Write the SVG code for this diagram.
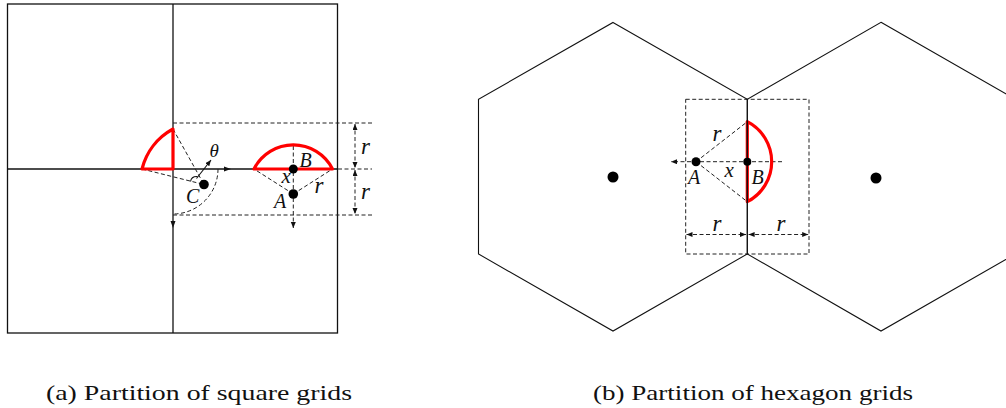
<svg xmlns="http://www.w3.org/2000/svg" width="1006" height="408" viewBox="0 0 1006 408">
<style>
.solid{fill:none;stroke:#111;stroke-width:1.3}
.thin{fill:none;stroke:#111;stroke-width:1.1}
.dash{fill:none;stroke:#222;stroke-width:1;stroke-dasharray:4 2.5}
.red{fill:none;stroke:#ff0000;stroke-width:3.2;stroke-linejoin:round}
.dot{fill:#000}
.lbl{font-family:'Liberation Serif','Times New Roman',serif;font-style:italic;fill:#111}
.cap{font-family:'Liberation Serif','Times New Roman',serif;font-size:22px;fill:#111}
</style>
<defs>
<marker id="ah" markerUnits="userSpaceOnUse" markerWidth="7" markerHeight="6" refX="6" refY="2.5" orient="auto-start-reverse">
<path d="M0,0 L6,2.5 L0,5 z" fill="#111"/>
</marker>
</defs>

<g id="square-grid">
<rect x="7.5" y="4" width="330" height="329" class="solid"/>
<line x1="173" y1="4" x2="173" y2="333" class="solid"/>
<line x1="7.5" y1="169" x2="337" y2="169" class="solid"/>
<path d="M224,166.5 L231,169 L224,171.5 z" fill="#111"/>
<path d="M170.5,221 L173,228 L175.5,221 z" fill="#111"/>
</g>

<g id="connectors">
<line x1="173" y1="123" x2="372" y2="123" class="dash"/>
<line x1="173" y1="215" x2="372" y2="215" class="dash"/>
<line x1="338" y1="169" x2="372" y2="169" class="dash"/>
<line x1="355" y1="124" x2="355" y2="168" class="dash" marker-start="url(#ah)" marker-end="url(#ah)"/>
<line x1="355" y1="170" x2="355" y2="214" class="dash" marker-start="url(#ah)" marker-end="url(#ah)"/>
<line x1="173" y1="129" x2="204" y2="184.5" class="dash"/>
<line x1="142" y1="169" x2="204" y2="184.5" class="dash"/>
<path d="M218,169 A45,45 0 0 1 173,214" class="dash"/>
<line x1="196.5" y1="178.5" x2="211" y2="160" class="thin" marker-end="url(#ah)"/>
<path d="M190.5,181.5 Q191.5,176 197.5,176.5" class="thin"/>
<line x1="293.3" y1="146" x2="293.3" y2="228" class="dash" marker-end="url(#ah)"/>
<line x1="293.3" y1="194" x2="254" y2="169" class="dash"/>
<line x1="293.3" y1="194" x2="332.5" y2="169" class="dash"/>
<rect x="685.7" y="99.3" width="123.3" height="154.7" class="dash"/>
<line x1="782" y1="161.7" x2="671" y2="161.7" class="dash" marker-end="url(#ah)"/>
<line x1="696" y1="161.7" x2="747.3" y2="121.7" class="dash"/>
<line x1="696" y1="161.7" x2="747.3" y2="201.7" class="dash"/>
<line x1="686.5" y1="234.5" x2="746" y2="234.5" class="dash" marker-start="url(#ah)" marker-end="url(#ah)"/>
<line x1="748.6" y1="234.5" x2="808.2" y2="234.5" class="dash" marker-start="url(#ah)" marker-end="url(#ah)"/>
</g>

<g id="red-regions">
<path d="M142,169 L173,169 L173,129 A63,63 0 0 0 142,169 Z" class="red"/>
<path d="M254,169 L332.5,169 A44,44 0 0 0 254,169 Z" class="red"/>
<path d="M747.3,121.7 L747.3,201.7 A45,45 0 0 0 747.3,121.7 Z" class="red"/>
</g>

<g id="hexagon-left">
<polygon points="613,22.5 747.3,99.3 747.3,254 613,331 478.5,254 478.5,99.3" class="thin"/>
<circle cx="613" cy="177" r="5.5" class="dot"/>
</g>
<g id="hexagon-right">
<polygon points="881,22.3 1015.5,99.3 1015.5,254 881,331 747.3,254 747.3,99.3" class="thin"/>
<circle cx="876" cy="178" r="5.5" class="dot"/>
</g>

<g id="point-C"><circle cx="204" cy="184.5" r="4.8" class="dot"/><text x="186" y="202.5" class="lbl" font-size="20">C</text></g>
<g id="point-B-left"><circle cx="293.3" cy="169" r="4.5" class="dot"/><text x="299.5" y="167" class="lbl" font-size="20">B</text></g>
<g id="point-A-left"><circle cx="293.3" cy="194" r="4.8" class="dot"/><text x="274" y="207.5" class="lbl" font-size="20">A</text></g>
<g id="point-A-right"><circle cx="696" cy="161.7" r="4.5" class="dot"/><text x="688" y="183.5" class="lbl" font-size="20">A</text></g>
<g id="point-B-right"><circle cx="747.3" cy="161.7" r="4" class="dot"/><text x="751.5" y="183.5" class="lbl" font-size="20">B</text></g>

<g id="labels">
<text x="209.5" y="157" class="lbl" font-size="19">θ</text>
<text x="281.5" y="182.5" class="lbl" font-size="21">x</text>
<text x="314.5" y="192.5" class="lbl" font-size="23">r</text>
<text x="361" y="154" class="lbl" font-size="23">r</text>
<text x="361" y="198.5" class="lbl" font-size="23">r</text>
<text x="712.5" y="140.5" class="lbl" font-size="23">r</text>
<text x="724.5" y="176.5" class="lbl" font-size="21">x</text>
<text x="712.5" y="230.5" class="lbl" font-size="23">r</text>
<text x="776.5" y="230.5" class="lbl" font-size="23">r</text>
</g>

<g id="captions">
<text x="46" y="400" class="cap" textLength="306" lengthAdjust="spacingAndGlyphs">(a) Partition of square grids</text>
<text x="593" y="400" class="cap" textLength="320" lengthAdjust="spacingAndGlyphs">(b) Partition of hexagon grids</text>
</g>
</svg>
